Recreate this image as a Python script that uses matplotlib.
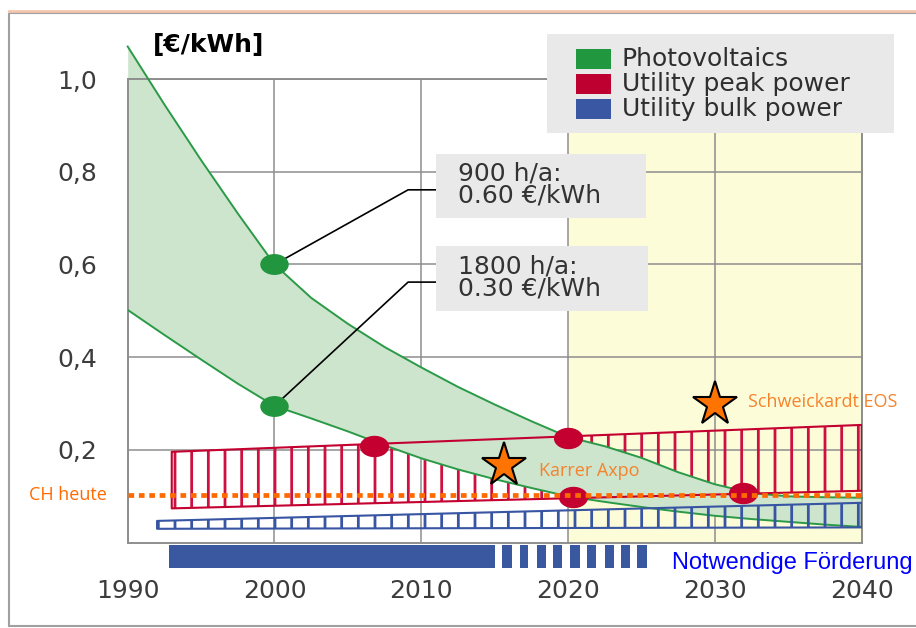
import matplotlib
matplotlib.use("Agg")
import matplotlib.pyplot as plt
import matplotlib.transforms as mtransforms
from matplotlib.lines import Line2D
from matplotlib.patches import Rectangle
from matplotlib.path import Path

# ---- data ----
years = [1990, 1992.5, 1995, 1997.5, 2000, 2002.5, 2005, 2007.5, 2010, 2012.5,
         2015, 2017.5, 2020, 2022.5, 2025, 2027.5, 2030, 2032.5, 2035, 2037.5, 2040]
pv_900 = [1.07, 0.945, 0.825, 0.71, 0.60, 0.528, 0.472, 0.422, 0.378, 0.336,
          0.298, 0.262, 0.228, 0.208, 0.183, 0.152, 0.126, 0.107, 0.100, 0.098, 0.097]
pv_1800 = [0.502, 0.448, 0.395, 0.343, 0.295, 0.268, 0.240, 0.210, 0.182, 0.158,
           0.137, 0.118, 0.100, 0.088, 0.077, 0.067, 0.058, 0.051, 0.045, 0.039, 0.034]

peak_years = [1993, 2040]
peak_low = [0.074, 0.112]
peak_high = [0.196, 0.254]

bulk_years = [1992, 2040]
bulk_low = [0.030, 0.033]
bulk_high = [0.047, 0.086]

pv_dot_x = [2000, 2000]
pv_dot_y = [0.60, 0.295]
cross_x = [2006.8, 2020.0, 2020.3, 2031.9]
cross_y = [0.209, 0.226, 0.0985, 0.107]

ch_today = 0.103
star_names = ["Karrer Axpo", "Schweickardt EOS"]
star_x = [2015.6, 2030.0]
star_y = [0.168, 0.300]

support_start = [1992.8, 2015.5, 2016.7, 2017.9, 2019.0, 2020.1, 2021.3, 2022.5, 2023.6, 2024.7]
support_end = [2015.0, 2016.2, 2017.3, 2018.5, 2019.6, 2020.8, 2021.9, 2023.1, 2024.2, 2025.4]

x_ticks = [1990, 2000, 2010, 2020, 2030, 2040]
y_ticks = [0.2, 0.4, 0.6, 0.8, 1.0]
y_tick_labels = ["0,2", "0,4", "0,6", "0,8", "1,0"]
legend_labels = ["Photovoltaics", "Utility peak power", "Utility bulk power"]

GREEN = "#2A9A46"
GREEN_FILL = "#CDE4CD"
RED = "#C3002F"
BLUE = "#3855A3"
ORANGE = "#FF6A00"
ORANGE_TXT = "#F5832C"
GRID = "#8E8E8E"
BOX = "#E9E9E9"

W, H = 916, 628
plt.rcParams["hatch.linewidth"] = 2.0

fig = plt.figure(figsize=(W / 100, H / 100), dpi=100)
ax = fig.add_axes([127.7 / W, 1 - 542.7 / H, (861.7 - 127.7) / W, (542.7 - 79) / H])
ax.set_xlim(1990, 2040)
ax.set_ylim(0, 1.0)

# pixel transform for figure-level layout (origin top-left)
px = mtransforms.Affine2D().scale(1 / W, -1 / H).translate(0, 1) + fig.transFigure

# background region and grid
ax.axvspan(2020, 2040, color="#FDFCD9", lw=0, zorder=0)
ax.set_axisbelow(True)
ax.grid(color=GRID, lw=1.1)
for sp in ax.spines.values():
    sp.set_color(GRID)
    sp.set_linewidth(1.4)

# peak power band: hatching under PV band, outline on top
ax.fill_between(peak_years, peak_low, peak_high, facecolor="none", edgecolor="#CC1040",
                lw=0, hatch="|", zorder=1)

# photovoltaics band
ax.fill_between(years, pv_1800, pv_900, color=GREEN_FILL, lw=0, zorder=2, clip_on=False)
ax.plot(years, pv_900, color=GREEN, lw=1.4, zorder=3, clip_on=False)
ax.plot(years, pv_1800, color=GREEN, lw=1.4, zorder=3)

ax.fill_between(peak_years, peak_low, peak_high, facecolor="none", edgecolor=RED,
                lw=1.5, zorder=3)

# bulk power band
ax.fill_between(bulk_years, bulk_low, bulk_high, facecolor="none", edgecolor=BLUE,
                lw=1.5, hatch="|", zorder=4)

# dots
ellipse = Path.unit_circle().transformed(mtransforms.Affine2D().scale(1.0, 0.72))
ax.plot(pv_dot_x, pv_dot_y, ls="none", marker=ellipse, ms=19.5, color="#22963E", zorder=6)
ax.plot(cross_x, cross_y, ls="none", marker=ellipse, ms=20, color=RED, zorder=6)

# CH heute
ax.axhline(ch_today, color=ORANGE, lw=3.4, dashes=(1.2, 1.0), zorder=7)
ax.text(1988.6, ch_today, "CH heute", color=ORANGE, fontsize=13, family="Open Sans",
        ha="right", va="center", clip_on=False)

# stars
ax.plot(star_x, star_y, ls="none", marker="*", ms=33, mfc="#FF7300", mec="black",
        mew=1.5, zorder=9)
ax.text(2018.0, 0.155, star_names[0], color=ORANGE_TXT, fontsize=13, family="Open Sans",
        ha="left", va="center", zorder=9)
ax.text(2032.25, 0.304, star_names[1], color=ORANGE_TXT, fontsize=13, family="Open Sans",
        ha="left", va="center", zorder=9, clip_on=False)

# leader lines + callout boxes
ax.plot([2000, 2009.1, 2011.0], [0.60, 0.761, 0.761], color="black", lw=1.2, zorder=5)
ax.plot([2000, 2009.1, 2011.0], [0.295, 0.562, 0.562], color="black", lw=1.2, zorder=5)
ax.add_patch(Rectangle((2011.0, 0.700), 14.3, 0.139, color=BOX, lw=0, zorder=8))
ax.add_patch(Rectangle((2011.0, 0.500), 14.45, 0.139, color=BOX, lw=0, zorder=8))
ax.text(2012.5, 0.772, "900 h/a:\n0.60 €/kWh", fontsize=18, color="#333333",
        ha="left", va="center", linespacing=0.9, zorder=9)
ax.text(2012.5, 0.571, "1800 h/a:\n0.30 €/kWh", fontsize=18, color="#333333",
        ha="left", va="center", linespacing=0.9, zorder=9)

# necessary support bar below the axis
ax.bar(x=support_start, height=0.05, width=[e - s for s, e in zip(support_start, support_end)],
       bottom=-0.055, align="edge", color="#3A58A0", lw=0, clip_on=False)
ax.text(2027.1, -0.044, "Notwendige Förderung", color="#0000FF", fontsize=17,
        family="Liberation Sans", ha="left", va="center", clip_on=False)

# ticks
ax.set_xticks(x_ticks)
ax.set_yticks(y_ticks)
ax.set_yticklabels(y_tick_labels)
ax.tick_params(axis="both", length=0, labelsize=18, labelcolor="#3C3C3C")
ax.tick_params(axis="y", pad=22)
ax.tick_params(axis="x", pad=26)

fig.text(153 / W, 1 - 45 / H, "[€/kWh]", fontsize=18, fontweight="bold",
         ha="left", va="center")

# legend box
fig.add_artist(Rectangle((547, 34), 347, 99, transform=px, color=BOX, lw=0, zorder=10))
for i, (lab, col) in enumerate(zip(legend_labels, ["#21973F", "#BE0030", "#3A57A3"])):
    yc = 59 + 25 * i
    fig.add_artist(Rectangle((576, yc - 10), 35, 20, transform=px, color=col, lw=0, zorder=11))
    fig.text(622 / W, 1 - yc / H, lab, fontsize=18, color="#2E2E2E",
             ha="left", va="center", zorder=12)

# outer frame
fig.add_artist(Line2D([9, W], [10.5, 10.5], transform=px, color="#F5C6AE", lw=2))
fig.add_artist(Rectangle((9, 13.3), W + 10, 613, transform=px, fill=False,
                         edgecolor="#A0A0A0", lw=1.5))

fig.savefig("out.png", dpi=100)
